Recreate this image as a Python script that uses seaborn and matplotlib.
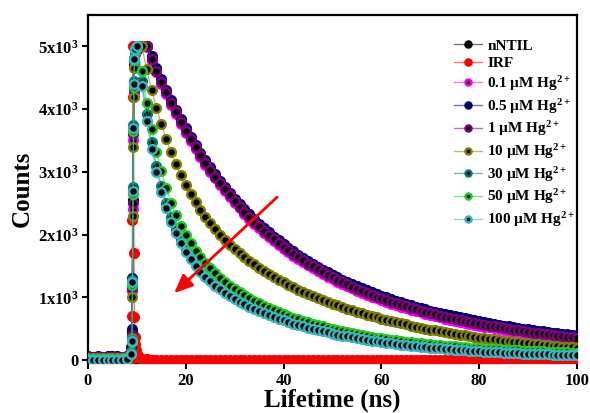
import matplotlib
matplotlib.use("Agg")
import matplotlib.pyplot as plt
import seaborn as sns
from matplotlib.colors import to_rgba

# ---------------- data ----------------
sample_time_ns = [0, 1, 2, 3, 4, 5, 6, 7, 8, 8.8, 9.0, 9.1, 9.2, 9.3, 9.4, 9.5, 9.7] + list(range(10, 101))

irf_time_ns = [0, 1, 2, 3, 4, 5, 6, 7, 8, 8.8, 9.0, 9.1, 9.2, 9.3, 9.4, 9.5, 9.6, 9.7, 9.8,
               10.0, 10.3, 10.6] + list(range(11, 101))
irf_counts = [0, 0, 0, 0, 0, 0, 0, 0, 0, 10, 700, 2230, 5000, 4200, 1700, 685, 366, 250, 160,
              100, 60, 35, 20, 10] + [0] * 88

nntil_counts = [52, 48, 50, 47, 52, 49, 51, 47, 58,
                180, 450, 1200, 2550, 3650, 4350, 4720, 4900,
                4950, 5000, 5000,
                4803, 4615, 4436, 4265, 4101, 3946, 3797, 3655, 3518, 3389,
                3265, 3146, 3032, 2924, 2820, 2720, 2625, 2534, 2446, 2362,
                2282, 2205, 2131, 2061, 1993, 1928, 1865, 1805, 1747, 1692,
                1638, 1587, 1538, 1491, 1445, 1401, 1359, 1318, 1279, 1241,
                1205, 1170, 1136, 1104, 1072, 1041, 1012, 984, 957, 930,
                905, 880, 856, 833, 810, 788, 768, 747, 728, 709,
                691, 673, 655, 638, 622, 606, 591, 576, 561, 548,
                534, 521, 508, 496, 483, 472, 460, 449, 438, 428,
                417, 407, 398, 388, 379, 370, 361, 353]

hg_0_1_counts = [50, 45, 48, 44, 50, 46, 48, 45, 55,
                 120, 350, 1100, 2400, 3500, 4250, 4680, 4880,
                 4940, 5000, 4990,
                 4773, 4585, 4406, 4235, 4071, 3916, 3767, 3625, 3488, 3359,
                 3235, 3116, 3002, 2894, 2790, 2690, 2595, 2504, 2416, 2332,
                 2252, 2175, 2101, 2031, 1963, 1898, 1835, 1775, 1717, 1662,
                 1608, 1557, 1508, 1461, 1415, 1371, 1329, 1288, 1249, 1211,
                 1175, 1140, 1106, 1074, 1042, 1011, 982, 954, 927, 900,
                 875, 850, 826, 803, 780, 758, 738, 717, 698, 679,
                 661, 643, 625, 608, 592, 576, 561, 546, 531, 518,
                 504, 491, 478, 466, 453, 442, 430, 419, 408, 398,
                 387, 377, 368, 358, 349, 340, 331, 323]

hg_0_5_counts = [60, 55, 58, 52, 60, 56, 58, 54, 70,
                 200, 500, 1300, 2700, 3700, 4400, 4750, 4920,
                 4960, 5000, 5000,
                 4843, 4655, 4476, 4305, 4141, 3986, 3837, 3695, 3558, 3429,
                 3305, 3186, 3072, 2964, 2860, 2760, 2665, 2574, 2486, 2402,
                 2322, 2245, 2171, 2101, 2033, 1968, 1905, 1845, 1787, 1732,
                 1678, 1627, 1578, 1531, 1485, 1441, 1399, 1358, 1319, 1281,
                 1245, 1210, 1176, 1144, 1112, 1081, 1052, 1024, 997, 970,
                 945, 920, 896, 873, 850, 828, 808, 787, 768, 749,
                 731, 713, 695, 678, 662, 646, 631, 616, 601, 588,
                 574, 561, 548, 536, 523, 512, 500, 489, 478, 468,
                 457, 447, 438, 428, 419, 410, 401, 393]

hg_1_counts = [55, 50, 52, 48, 55, 50, 53, 49, 60,
               150, 400, 1150, 2500, 3600, 4300, 4700, 4900,
               4950, 5000, 5000,
               4803, 4615, 4436, 4265, 4101, 3946, 3797, 3655, 3518, 3389,
               3265, 3146, 3032, 2924, 2820, 2720, 2625, 2534, 2446, 2362,
               2282, 2205, 2131, 2061, 1993, 1928, 1865, 1805, 1747, 1692,
               1638, 1587, 1538, 1491, 1445, 1401, 1359, 1318, 1279, 1241,
               1205, 1170, 1136, 1104, 1072, 1041, 1012, 984, 957, 930,
               905, 880, 856, 833, 810, 788, 768, 747, 728, 709,
               691, 673, 655, 638, 622, 606, 591, 576, 561, 548,
               534, 521, 508, 496, 483, 472, 460, 449, 438, 428,
               417, 407, 398, 388, 379, 370, 361, 353]

hg_10_counts = [35, 30, 32, 28, 33, 30, 31, 29, 40,
                120, 350, 1000, 2300, 3400, 4200, 4650, 4900,
                4980, 5000,
                4633, 4307, 4016, 3755, 3520, 3309, 3119, 2946, 2789, 2645,
                2514, 2394, 2284, 2181, 2087, 2000, 1918, 1841, 1770, 1703,
                1640, 1580, 1524, 1470, 1419, 1370, 1324, 1280, 1238, 1198,
                1159, 1122, 1086, 1051, 1018, 986, 956, 926, 898, 870,
                843, 817, 793, 769, 745, 723, 700, 679, 659, 639,
                620, 601, 583, 566, 549, 532, 516, 501, 486, 471,
                457, 443, 430, 417, 404, 392, 381, 369, 358, 348,
                337, 327, 318, 308, 299, 290, 281, 273, 265, 257,
                249, 242, 235, 228, 221, 214, 208, 202, 196]

hg_30_counts = [10, 8, 9, 7, 9, 8, 10, 8, 20,
                110, 320, 1280, 2750, 3750, 4450, 4820, 4960,
                5000, 4450, 3920, 3470, 3090, 2775, 2510, 2285, 2095, 1930,
                1790, 1668, 1560, 1465, 1380, 1303, 1234, 1171, 1114, 1062,
                1013, 968, 925, 885, 847, 811, 777, 745, 715, 686,
                658, 632, 607, 583, 560, 538, 517, 497, 478, 460,
                442, 425, 409, 394, 379, 365, 352, 339, 327, 315,
                304, 293, 283, 273, 264, 255, 246, 238, 230, 222,
                215, 208, 201, 195, 189, 183, 177, 172, 167, 162,
                157, 152, 148, 144, 140, 136, 132, 128, 125, 121,
                118, 115, 112, 109, 106, 104, 101, 99, 96, 94, 92]

hg_50_counts = [15, 12, 14, 11, 13, 12, 14, 12, 25,
                90, 280, 1200, 2650, 3650, 4350, 4780, 4940,
                5000, 4600, 4100, 3680, 3320, 3010, 2740, 2510, 2310, 2140,
                1990, 1860, 1745, 1640, 1545, 1460, 1380, 1310, 1245, 1185,
                1130, 1080, 1032, 988, 946, 906, 868, 832, 798, 765,
                734, 705, 677, 650, 624, 600, 577, 555, 534, 514,
                495, 477, 460, 443, 427, 412, 398, 384, 371, 358,
                346, 334, 323, 313, 303, 293, 284, 275, 266, 258,
                250, 243, 236, 229, 222, 216, 210, 204, 198, 193,
                188, 183, 178, 173, 169, 165, 161, 157, 153, 149,
                146, 142, 139, 136, 133, 130, 127, 124, 121, 119, 116]

hg_100_counts = [5, 3, 6, 4, 5, 3, 6, 5, 15,
                 100, 300, 1250, 2700, 3700, 4400, 4800, 4950,
                 5000, 4361, 3816, 3367, 2995, 2685, 2425, 2206, 2020, 1861,
                 1724, 1605, 1500, 1408, 1326, 1252, 1186, 1125, 1070, 1020,
                 972, 928, 887, 849, 812, 777, 745, 714, 685, 657,
                 631, 605, 581, 558, 535, 515, 494, 475, 456, 439,
                 422, 405, 390, 375, 361, 347, 334, 321, 309, 297,
                 286, 276, 265, 256, 246, 237, 229, 220, 212, 205,
                 197, 190, 184, 177, 171, 165, 159, 154, 148, 143,
                 139, 134, 129, 125, 121, 117, 113, 110, 106, 103,
                 100, 97, 94, 91, 88, 86, 83, 81, 79, 76, 74]

series_labels = ["nNTIL", "IRF", "0.1 µM Hg$^{2+}$", "0.5 µM Hg$^{2+}$", "1 µM Hg$^{2+}$",
                 "10 µM Hg$^{2+}$", "30 µM Hg$^{2+}$", "50 µM Hg$^{2+}$", "100 µM Hg$^{2+}$"]
series_colors = ["#000000", "#FF0000", "#FF00FF", "#000080", "#800080",
                 "#808000", "#008080", "#22CC22", "#35B8C4"]

y_ticks = [0, 1000, 2000, 3000, 4000, 5000]
y_tick_labels = ["0", "1x10$^{3}$", "2x10$^{3}$", "3x10$^{3}$", "4x10$^{3}$", "5x10$^{3}$"]
x_ticks = [0, 20, 40, 60, 80, 100]

# ---------------- style ----------------
sns.set_style("ticks")
plt.rcParams["font.family"] = ["Liberation Serif", "DejaVu Serif"]
plt.rcParams["font.weight"] = "bold"
plt.rcParams["mathtext.fontset"] = "custom"
plt.rcParams["mathtext.rm"] = "Liberation Serif:bold"
plt.rcParams["mathtext.bf"] = "Liberation Serif:bold"
plt.rcParams["mathtext.it"] = "Liberation Serif:italic:bold"
plt.rcParams["mathtext.default"] = "rm"
for key in ["text.color", "axes.labelcolor", "xtick.color", "ytick.color", "axes.edgecolor"]:
    plt.rcParams[key] = "black"

fig = plt.figure(figsize=(5.9, 4.13), dpi=100)
ax = fig.add_axes([88 / 590, 1 - 363 / 413, (577 - 88) / 590, (363 - 15) / 413])

all_series = [
    (sample_time_ns, nntil_counts),
    (irf_time_ns, irf_counts),
    (sample_time_ns, hg_0_1_counts),
    (sample_time_ns, hg_0_5_counts),
    (sample_time_ns, hg_1_counts),
    (sample_time_ns, hg_10_counts),
    (sample_time_ns, hg_30_counts),
    (sample_time_ns, hg_50_counts),
    (sample_time_ns, hg_100_counts),
]

handles = []
for (tx, cy), lab, col in zip(all_series, series_labels, series_colors):
    face = "red" if lab == "IRF" else "black"
    n_before = len(ax.lines)
    sns.lineplot(x=tx, y=cy, ax=ax, estimator=None, sort=False, color=col,
                 marker="o", markersize=6.3, markerfacecolor=face,
                 markeredgecolor=col, markeredgewidth=1.7, linewidth=1.0,
                 zorder=3, legend=False)
    ln = ax.lines[n_before]
    ln.set_color(to_rgba(col, 0.55))
    ln.set_markeredgecolor(col)
    ln.set_markerfacecolor(face)
    ln.set_label(lab)
    handles.append(ln)

ax.set_xlim(0, 100)
ax.set_ylim(-48, 5500)
ax.set_xticks(x_ticks)
ax.set_yticks(y_ticks)
ax.set_yticklabels(y_tick_labels)
ax.tick_params(direction="out", length=4, width=1.5, labelsize=12, pad=3, colors="black")
for lab in ax.get_xticklabels() + ax.get_yticklabels():
    lab.set_fontweight("bold")
for sp in ax.spines.values():
    sp.set_linewidth(1.6)
    sp.set_color("black")
    sp.set_visible(True)

ax.set_xlabel("Lifetime (ns)", fontsize=18, fontweight="bold", labelpad=0)
ax.set_ylabel("Counts", fontsize=18, fontweight="bold", labelpad=3)

ax.annotate("", xy=(17.2, 1035), xytext=(39.1, 2627),
            arrowprops=dict(arrowstyle="-|>,head_length=0.7,head_width=0.3",
                            color="red", lw=2, mutation_scale=16),
            zorder=5)

leg = ax.legend(handles=handles, labels=series_labels, loc="upper right",
                bbox_to_anchor=(1.018, 0.962), frameon=False, fontsize=11,
                handlelength=1.8, handletextpad=0.35, labelspacing=0.25,
                borderaxespad=0.3, markerscale=0.7)
for t in leg.get_texts():
    t.set_fontweight("bold")

fig.savefig("out.png", dpi=100)
